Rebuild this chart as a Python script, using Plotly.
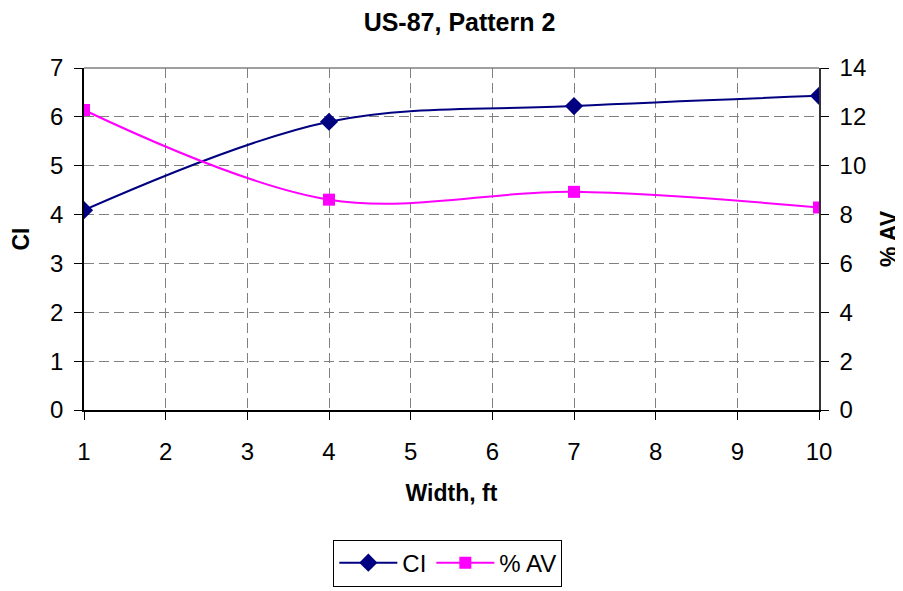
import plotly.graph_objects as go

width_ft = [1, 4, 7, 10]
ci_values = [4.09, 5.90, 6.22, 6.43]
av_values = [12.28, 8.61, 8.93, 8.29]

x_ticks = list(range(1, 11))
ci_ticks = list(range(0, 8))
av_ticks = list(range(0, 15, 2))

fig = go.Figure()
fig.add_trace(go.Scatter(
    x=width_ft, y=ci_values, name="CI", mode="lines+markers",
    line=dict(color="#000080", width=2, shape="spline", smoothing=1),
    marker=dict(symbol="diamond", size=14, color="#000080"),
    yaxis="y"))
fig.add_trace(go.Scatter(
    x=width_ft, y=av_values, name="% AV", mode="lines+markers",
    line=dict(color="#FF00FF", width=2, shape="spline", smoothing=1),
    marker=dict(symbol="square", size=12, color="#FF00FF"),
    yaxis="y2"))

grid = dict(showgrid=True, gridcolor="#808080", griddash="10px,5px", gridwidth=1)
font = "Liberation Sans, Arial, sans-serif"

fig.update_layout(
    width=903, height=591,
    margin=dict(l=76, r=92, t=60, b=185),
    paper_bgcolor="white", plot_bgcolor="white",
    font=dict(family=font, color="black", size=24),
    title=dict(text="<b>US-87, Pattern 2</b>", x=0.5, xanchor="center", xref="container",
               y=1 - 14 / 591, yanchor="middle", font=dict(size=25)),
    showlegend=True,
    legend=dict(orientation="h", x=0.495, xanchor="center", y=-0.379, yanchor="top",
                bordercolor="black", borderwidth=1, font=dict(size=24),
                itemwidth=58, bgcolor="white"),
    xaxis=dict(range=[1, 10], tickvals=x_ticks, ticks="outside", ticklen=8,
               tickcolor="black", showline=True, linecolor="black", linewidth=1.5,
               mirror=False, zeroline=False, ticklabelstandoff=11,
               title=dict(text="<b>Width, ft</b>", font=dict(size=23), standoff=21),
               tickfont=dict(size=24), **grid),
    yaxis=dict(range=[0, 7], tickvals=ci_ticks, ticks="outside", ticklen=8,
               tickcolor="black", showline=True, linecolor="black", linewidth=1.5,
               zeroline=False, ticklabelstandoff=6,
               title=dict(text="<b>CI</b>", font=dict(size=23), standoff=14),
               tickfont=dict(size=24), **grid),
    yaxis2=dict(range=[0, 14], tickvals=av_ticks, ticks="outside", ticklen=8,
                tickcolor="black", showline=True, linecolor="#333333", linewidth=1.5,
                overlaying="y", side="right", showgrid=False, zeroline=False,
                ticklabelstandoff=6,
                title=dict(text="<b>% AV</b>", font=dict(size=23), standoff=16),
                tickfont=dict(size=24)),
)
# top border of plot area
fig.add_shape(type="line", xref="paper", yref="paper", x0=0, x1=1, y0=1, y1=1,
              line=dict(color="#808080", width=1.5))

fig.write_html("out.html")
